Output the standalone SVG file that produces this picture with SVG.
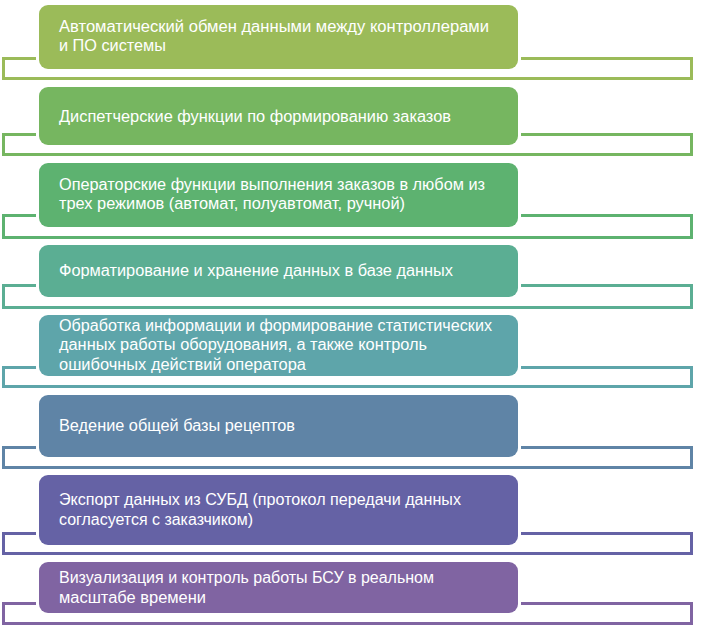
<svg xmlns="http://www.w3.org/2000/svg" width="704" height="631" viewBox="0 0 704 631">
<style>
.frame{fill:none;stroke-width:3}
.gap{fill:#ffffff}
.t{font-family:"Liberation Sans",Arial,sans-serif;font-size:16px;fill:#ffffff}
</style>
<rect width="704" height="631" fill="#ffffff"/>
<g id="connectors"></g>
<g id="n1">
<rect class="frame" x="3.5" y="58.5" width="688" height="20" stroke="#9BBB59"/>
<rect class="gap" x="36" y="2" width="485" height="70" rx="11"/>
<rect x="39" y="5" width="479" height="64" rx="9" fill="#9BBB59"/>
<text class="t" x="59" y="32" textLength="430" lengthAdjust="spacingAndGlyphs">Автоматический обмен данными между контроллерами</text>
<text class="t" x="59" y="51" textLength="107" lengthAdjust="spacingAndGlyphs">и ПО системы</text>
</g>
<g id="n2">
<rect class="frame" x="3.5" y="134.5" width="688" height="20" stroke="#76B660"/>
<rect class="gap" x="36" y="84" width="485" height="64" rx="11"/>
<rect x="39" y="87" width="479" height="58" rx="9" fill="#76B660"/>
<text class="t" x="59" y="122" textLength="392" lengthAdjust="spacingAndGlyphs">Диспетчерские функции по формированию заказов</text>
</g>
<g id="n3">
<rect class="frame" x="3.5" y="215.5" width="688" height="22" stroke="#5DB270"/>
<rect class="gap" x="36" y="160" width="485" height="70" rx="11"/>
<rect x="39" y="163" width="479" height="64" rx="9" fill="#5DB270"/>
<text class="t" x="59" y="190" textLength="426" lengthAdjust="spacingAndGlyphs">Операторские функции выполнения заказов в любом из</text>
<text class="t" x="59" y="209" textLength="346" lengthAdjust="spacingAndGlyphs">трех режимов (автомат, полуавтомат, ручной)</text>
</g>
<g id="n4">
<rect class="frame" x="3.5" y="285.5" width="688" height="22" stroke="#5BAE93"/>
<rect class="gap" x="36" y="242" width="485" height="58" rx="11"/>
<rect x="39" y="245" width="479" height="52" rx="9" fill="#5BAE93"/>
<text class="t" x="59" y="276" textLength="394" lengthAdjust="spacingAndGlyphs">Форматирование и хранение данных в базе данных</text>
</g>
<g id="n5">
<rect class="frame" x="3.5" y="367.5" width="688" height="19" stroke="#5EA5AA"/>
<rect class="gap" x="36" y="312" width="485" height="67" rx="11"/>
<rect x="39" y="315" width="479" height="61" rx="9" fill="#5EA5AA"/>
<text class="t" x="59" y="331" textLength="433" lengthAdjust="spacingAndGlyphs">Обработка информации и формирование статистических</text>
<text class="t" x="59" y="350" textLength="368" lengthAdjust="spacingAndGlyphs">данных работы оборудования, а также контроль</text>
<text class="t" x="59" y="370" textLength="247" lengthAdjust="spacingAndGlyphs">ошибочных действий оператора</text>
</g>
<g id="n6">
<rect class="frame" x="3.5" y="447.5" width="688" height="20" stroke="#5F84A6"/>
<rect class="gap" x="36" y="392" width="485" height="68" rx="11"/>
<rect x="39" y="395" width="479" height="62" rx="9" fill="#5F84A6"/>
<text class="t" x="59" y="431" textLength="236" lengthAdjust="spacingAndGlyphs">Ведение общей базы рецептов</text>
</g>
<g id="n7">
<rect class="frame" x="3.5" y="533.5" width="688" height="20" stroke="#6562A5"/>
<rect class="gap" x="36" y="472" width="485" height="76" rx="11"/>
<rect x="39" y="475" width="479" height="70" rx="9" fill="#6562A5"/>
<text class="t" x="59" y="505" textLength="402" lengthAdjust="spacingAndGlyphs">Экспорт данных из СУБД (протокол передачи данных</text>
<text class="t" x="59" y="525" textLength="194" lengthAdjust="spacingAndGlyphs">согласуется с заказчиком)</text>
</g>
<g id="n8">
<rect class="frame" x="3.5" y="603.5" width="688" height="20" stroke="#8064A2"/>
<rect class="gap" x="36" y="559" width="485" height="57" rx="11"/>
<rect x="39" y="562" width="479" height="51" rx="9" fill="#8064A2"/>
<text class="t" x="59" y="583" textLength="375" lengthAdjust="spacingAndGlyphs">Визуализация и контроль работы БСУ в реальном</text>
<text class="t" x="59" y="603" textLength="147" lengthAdjust="spacingAndGlyphs">масштабе времени</text>
</g>
</svg>
